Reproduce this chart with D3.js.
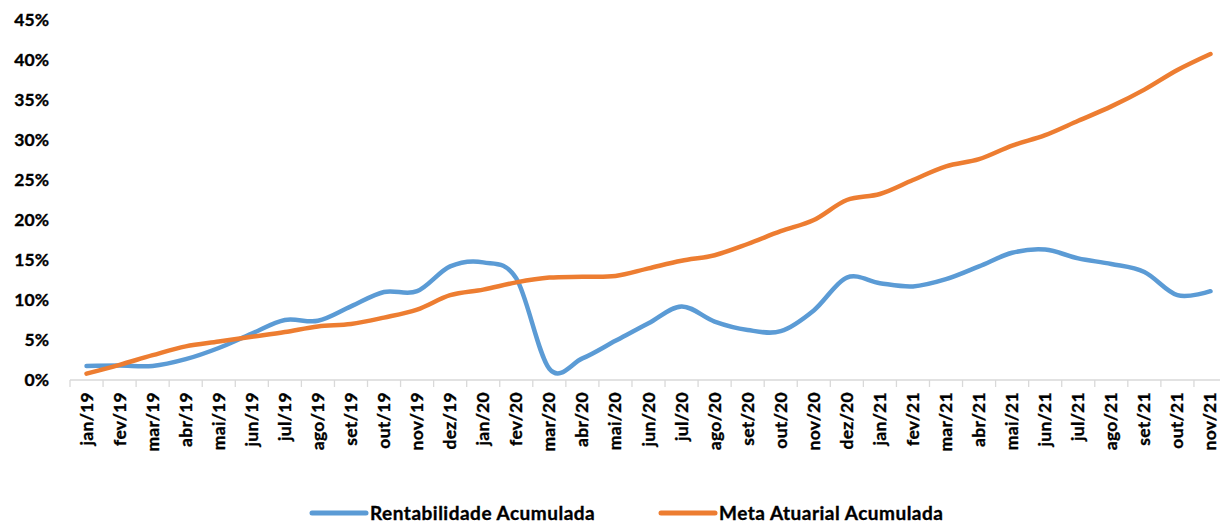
<!DOCTYPE html>
<html>
<head>
<meta charset="utf-8">
<script src="https://cdnjs.cloudflare.com/ajax/libs/d3/7.8.5/d3.min.js"></script>
<style>
  body { margin: 0; background: #fff; }
  svg { display: block; font-family: Lato, "Open Sans", sans-serif; font-weight: bold; }
  text { stroke: #000; stroke-width: 0.35px; }
</style>
</head>
<body>
<div class="chart"></div>
<script>
// months on the x axis
var months = ['jan/19','fev/19','mar/19','abr/19','mai/19','jun/19','jul/19','ago/19','set/19','out/19','nov/19','dez/19',
  'jan/20','fev/20','mar/20','abr/20','mai/20','jun/20','jul/20','ago/20','set/20','out/20','nov/20','dez/20',
  'jan/21','fev/21','mar/21','abr/21','mai/21','jun/21','jul/21','ago/21','set/21','out/21','nov/21'];

// accumulated return (%)
var rentabilidade = [1.75, 1.8, 1.75, 2.6, 4.0, 5.8, 7.5, 7.4, 9.2, 11.0, 11.1, 14.2,
  14.7, 12.7, 1.4, 2.7, 4.9, 7.1, 9.2, 7.3, 6.25, 6.1, 8.7, 12.8,
  12.1, 11.7, 12.6, 14.2, 15.9, 16.3, 15.2, 14.5, 13.5, 10.6, 11.1];

// accumulated actuarial target (%)
var metaAtuarial = [0.8, 1.9, 3.1, 4.2, 4.8, 5.4, 6.0, 6.7, 7.0, 7.8, 8.8, 10.6,
  11.3, 12.2, 12.8, 12.9, 13.0, 13.95, 14.9, 15.6, 17.0, 18.6, 20.0, 22.5,
  23.25, 25.0, 26.7, 27.6, 29.3, 30.6, 32.4, 34.2, 36.3, 38.75, 40.75];

var yTicks = [0, 5, 10, 15, 20, 25, 30, 35, 40, 45];

var width = 1220, height = 524;

var svg = d3.select('.chart').append('svg')
  .attr('width', width).attr('height', height);

var x = d3.scaleBand().domain(months).range([70, 1227]).padding(0);
var y = d3.scaleLinear().domain([0, 45]).range([380, 20]);

// y axis, labels only
var yAxis = svg.append('g')
  .attr('transform', 'translate(50,0)')
  .call(d3.axisLeft(y).tickValues(yTicks).tickSize(0).tickPadding(1)
    .tickFormat(function (d) { return d + '%'; }));
yAxis.select('.domain').remove();
yAxis.selectAll('text')
  .style('font-size', '17.5px').style('font-family', 'Lato, sans-serif')
  .attr('font-weight', 'bold').attr('fill', '#000');

// x axis line + tick marks at category edges
var xg = svg.append('g');
xg.append('line')
  .attr('x1', x.range()[0]).attr('x2', x.range()[1])
  .attr('y1', y(0)).attr('y2', y(0))
  .attr('stroke', '#d9d9d9').attr('stroke-width', 1.3);
var edges = months.map(function (m) { return x(m); }).concat([x.range()[1]]);
xg.selectAll('.edge').data(edges).enter().append('line')
  .attr('class', 'edge')
  .attr('x1', function (d) { return d; }).attr('x2', function (d) { return d; })
  .attr('y1', y(0)).attr('y2', y(0) + 7)
  .attr('stroke', '#d9d9d9').attr('stroke-width', 1.3);

xg.selectAll('.mlabel').data(months).enter().append('text')
  .attr('class', 'mlabel')
  .attr('transform', function (m) {
    return 'translate(' + (x(m) + x.bandwidth() / 2 + 6) + ',' + (y(0) + 12) + ') rotate(-90)';
  })
  .attr('text-anchor', 'end')
  .style('font-size', '17.5px')
  .style('letter-spacing', '0.3px')
  .attr('fill', '#000')
  .text(function (m) { return m; });

// lines
var line = d3.line()
  .x(function (d, i) { return x(months[i]) + x.bandwidth() / 2; })
  .y(function (d) { return y(d); })
  .curve(d3.curveCardinal.tension(0));

svg.append('path').datum(rentabilidade)
  .attr('d', line).attr('fill', 'none')
  .attr('stroke', '#5b9bd5').attr('stroke-width', 4.5)
  .attr('stroke-linecap', 'round').attr('stroke-linejoin', 'round');

svg.append('path').datum(metaAtuarial)
  .attr('d', line).attr('fill', 'none')
  .attr('stroke', '#ed7d31').attr('stroke-width', 4.5)
  .attr('stroke-linecap', 'round').attr('stroke-linejoin', 'round');

// legend
var legendItems = [
  { name: 'Rentabilidade Acumulada', color: '#5b9bd5', x: 312 },
  { name: 'Meta Atuarial Acumulada', color: '#ed7d31', x: 661 }
];
var legend = svg.selectAll('.legend').data(legendItems).enter().append('g')
  .attr('class', 'legend')
  .attr('transform', function (d) { return 'translate(' + d.x + ',513)'; });
legend.append('line')
  .attr('x1', 0).attr('x2', 54).attr('y1', 0).attr('y2', 0)
  .attr('stroke', function (d) { return d.color; })
  .attr('stroke-width', 5).attr('stroke-linecap', 'round');
legend.append('text')
  .attr('x', 58).attr('y', 6.5)
  .style('font-size', '19px').style('letter-spacing', '0.5px').attr('fill', '#000')
  .text(function (d) { return d.name; });
</script>
</body>
</html>
